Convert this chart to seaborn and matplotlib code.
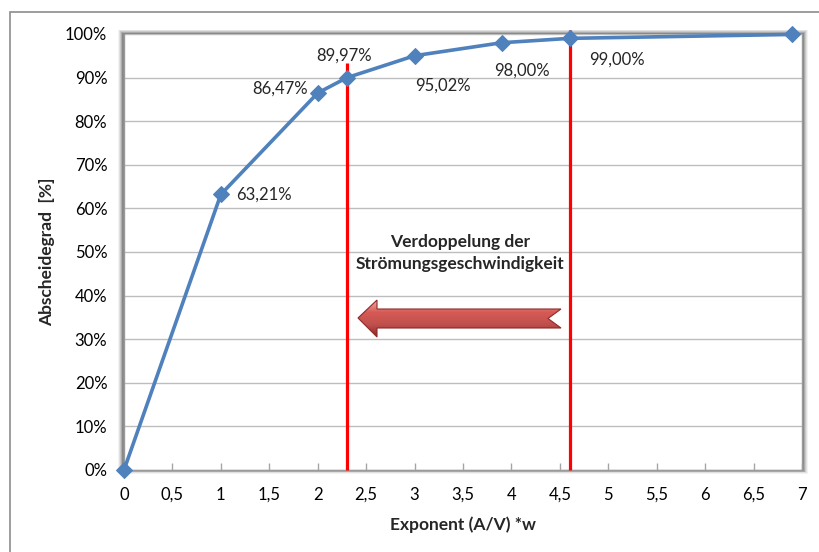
import numpy as np
import pandas as pd
import matplotlib
matplotlib.use("Agg")
import matplotlib.pyplot as plt
import seaborn as sns
from matplotlib.patches import Rectangle, Polygon
from matplotlib.ticker import FuncFormatter, MultipleLocator
from matplotlib.colors import LinearSegmentedColormap

# ---- data ----
exponent = [0.0, 1.0, 2.0, 2.3, 3.0, 3.9, 4.6, 6.9]
abscheidegrad = [0.0, 63.21, 86.47, 89.97, 95.02, 98.00, 99.00, 99.90]
labelled = [False, True, True, True, True, True, True, False]
red_lines_x = [2.3, 4.6]
red_lines_top = [93.3, 101.0]
x_label = "Exponent (A/V) *w"
y_label = "Abscheidegrad  [%]"
annotation = "Verdoppelung der\nStrömungsgeschwindigkeit"

df = pd.DataFrame({"x": exponent, "y": abscheidegrad})

sns.set_theme(style="white")
plt.rcParams["font.family"] = ["Lato", "DejaVu Sans"]

W, H = 819, 552
fig = plt.figure(figsize=(W / 100, H / 100), dpi=100)

def fx(px):
    return px / W

def fy(py):
    return 1 - py / H

L, R, T, B = 124, 802, 34, 470
ax = fig.add_axes([fx(L), fy(B), fx(R) - fx(L), fy(T) - fy(B)])
ax.set_zorder(2)

# outer frame (runs off right and bottom edge)
fig.patches.append(Rectangle((fx(10), fy(560)), fx(830) - fx(10), fy(12) - fy(560),
                             transform=fig.transFigure, fill=False, edgecolor="#8C8C8C",
                             linewidth=1.2, zorder=0))
# plot-area shadow
for i, a in enumerate([0.05, 0.07, 0.10, 0.14, 0.20]):
    d = 6 - i
    fig.patches.append(Rectangle((fx(L - d), fy(B + d * 0.6)), fx(R + d) - fx(L - d),
                                 fy(T - d * 0.7) - fy(B + d * 0.6), transform=fig.transFigure,
                                 facecolor="black", edgecolor="none", alpha=a, zorder=1))

ax.set_facecolor("white")
sns.lineplot(data=df, x="x", y="y", ax=ax, color="#4F81BD", linewidth=2.6,
             marker="D", markersize=8.5, markeredgecolor="#4F81BD", clip_on=False, zorder=5)

FS = 12
FSB = 12.5
ax.set_xlim(0, 7)
ax.set_ylim(0, 100)
ax.xaxis.set_major_locator(MultipleLocator(0.5))
ax.yaxis.set_major_locator(MultipleLocator(10))
ax.xaxis.set_major_formatter(FuncFormatter(lambda v, p: f"{v:g}".replace(".", ",")))
ax.yaxis.set_major_formatter(FuncFormatter(lambda v, p: f"{v:.0f}%"))
ax.grid(axis="y", color="#BDBDBD", linewidth=1)
ax.grid(axis="x", visible=False)
ax.tick_params(axis="x", direction="in", length=5, width=1, color="#A6A6A6",
               labelsize=FS, pad=12, bottom=True, labelcolor="black")
ax.tick_params(axis="y", length=0, labelsize=FS, pad=12, labelcolor="black")
for s in ["left", "bottom", "right", "top"]:
    ax.spines[s].set_color("#9A9A9A")
    ax.spines[s].set_linewidth(1)
ax.spines["top"].set_visible(False)

ax.set_xlabel(x_label, fontsize=FSB, fontweight="bold", labelpad=10)
ax.set_ylabel(y_label, fontsize=FSB, fontweight="bold", labelpad=7)

# red lines
for xv, top in zip(red_lines_x, red_lines_top):
    ax.vlines(xv, 0, top, color="#FF0000", linewidth=2.3, zorder=4, clip_on=False)

# data labels
offsets = {1: (15, 0, "left"), 2: (-10, 4, "right"), 3: (-3, 22, "center"),
           4: (1, -30, "left"), 5: (-8, -28, "left"), 6: (20, -21, "left")}
for i, (xv, yv, lab) in enumerate(zip(exponent, abscheidegrad, labelled)):
    if not lab:
        continue
    dx, dy, ha = offsets[i]
    ax.annotate(f"{yv:.2f}".replace(".", ",") + "%", (xv, yv), xytext=(dx, dy),
                textcoords="offset pixels", ha=ha, va="center", fontsize=FS, zorder=6)

def dx_(px):
    return (px - L) / (R - L) * 7

def dy_(py):
    return (B - py) / (B - T) * 100

ax.text(dx_(460), dy_(253), annotation, ha="center", va="center", fontsize=FSB,
        fontweight="bold", linespacing=1.45, zorder=6)

# arrow (gradient filled)
pts_px = [(358, 318), (377, 300), (377, 309), (561, 309), (548, 318.5), (561, 328),
          (377, 328), (377, 337)]
pts = [(dx_(a), dy_(b)) for a, b in pts_px]
poly = Polygon(pts, closed=True, facecolor="none", edgecolor="#8E2A27", linewidth=0.8, zorder=7)
ax.add_patch(poly)
cmap = LinearSegmentedColormap.from_list("arr", ["#F0A8A4", "#D65A55", "#C0504D", "#8E2623"])
grad = np.linspace(0, 1, 100).reshape(-1, 1)
im = ax.imshow(grad, cmap=cmap, aspect="auto", extent=(dx_(358), dx_(561), dy_(337), dy_(300)),
               origin="upper", zorder=6.5)
im.set_clip_path(poly)
ax.set_xlim(0, 7)
ax.set_ylim(0, 100)

fig.savefig("out.png", dpi=100)
